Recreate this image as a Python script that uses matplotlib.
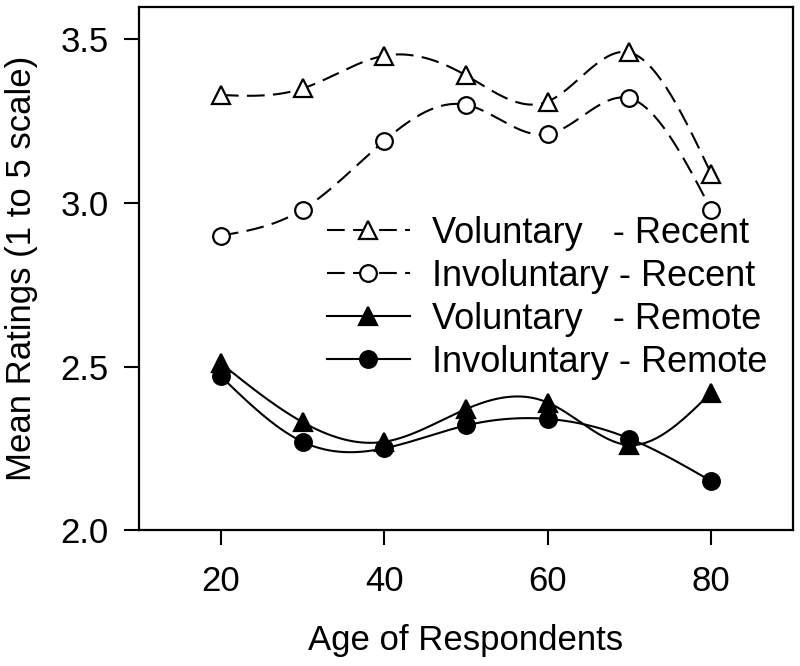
import numpy as np
import matplotlib
matplotlib.use("Agg")
import matplotlib.pyplot as plt
from matplotlib.lines import Line2D

plt.rcParams['font.family'] = ['Liberation Sans', 'DejaVu Sans']

ages = [20, 30, 40, 50, 60, 70, 80]
vol_recent = [3.33, 3.35, 3.45, 3.39, 3.31, 3.46, 3.09]
invol_recent = [2.90, 2.98, 3.19, 3.30, 3.21, 3.32, 2.98]
vol_remote = [2.51, 2.33, 2.27, 2.37, 2.39, 2.26, 2.42]
invol_remote = [2.47, 2.27, 2.25, 2.32, 2.34, 2.28, 2.15]
labels = ["Voluntary   - Recent", "Involuntary - Recent",
          "Voluntary   - Remote", "Involuntary - Remote"]


def spline(x, y, n=200):
    # natural cubic spline through the points
    x = np.asarray(x, float)
    y = np.asarray(y, float)
    k = len(x)
    h = np.diff(x)
    A = np.zeros((k, k))
    b = np.zeros(k)
    A[0, 0] = A[-1, -1] = 1
    for i in range(1, k - 1):
        A[i, i - 1] = h[i - 1]
        A[i, i] = 2 * (h[i - 1] + h[i])
        A[i, i + 1] = h[i]
        b[i] = 6 * ((y[i + 1] - y[i]) / h[i] - (y[i] - y[i - 1]) / h[i - 1])
    M = np.linalg.solve(A, b)
    xs = np.linspace(x[0], x[-1], n)
    ys = np.empty_like(xs)
    for j, t in enumerate(xs):
        i = min(np.searchsorted(x, t, side='right') - 1, k - 2)
        a = x[i + 1] - t
        c = t - x[i]
        ys[j] = (M[i] * a**3 + M[i + 1] * c**3) / (6 * h[i]) \
            + (y[i] / h[i] - M[i] * h[i] / 6) * a \
            + (y[i + 1] / h[i] - M[i + 1] * h[i] / 6) * c
    return xs, ys


fig, ax = plt.subplots(figsize=(8, 6.66), dpi=100)
fig.subplots_adjust(left=0.174, right=0.991, top=0.99, bottom=0.204)

dash = (8.5, 4)
series = [
    (vol_recent, '^', 13, 'white', True),
    (invol_recent, 'o', 12, 'white', True),
    (vol_remote, '^', 13, 'black', False),
    (invol_remote, 'o', 12, 'black', False),
]
handles = []
for (vals, mk, ms, fc, dashed), lab in zip(series, labels):
    xs, ys = spline(ages, vals)
    line, = ax.plot(xs, ys, color='black', lw=1.5)
    if dashed:
        line.set_dashes(dash)
    ax.plot(ages, vals, ls='none', marker=mk, ms=ms, mfc=fc, mec='black',
            mew=1.6, zorder=3)
    h = Line2D([], [], color='black', lw=1.5, marker=mk, ms=ms,
               mfc=fc, mec='black', mew=1.6)
    if dashed:
        h.set_dashes(dash)
    handles.append(h)

ax.set_xlim(10, 90)
ax.set_ylim(2.0, 3.6)
ax.set_xticks([20, 40, 60, 80])
ax.set_yticks([2.0, 2.5, 3.0, 3.5])
ax.tick_params(direction='out', length=11, width=1.5, labelsize=25)
ax.tick_params(axis='x', pad=14)
ax.tick_params(axis='y', pad=11)
for s in ax.spines.values():
    s.set_linewidth(1.6)
ax.set_xlabel("Age of Respondents", fontsize=25, labelpad=19)
ax.set_ylabel("Mean Ratings (1 to 5 scale)", fontsize=25, labelpad=16)

ax.legend(handles=handles, labels=labels, loc='upper left',
          bbox_to_anchor=(0.287, 0.60), frameon=False, fontsize=26,
          handlelength=2.3, handletextpad=0.6, labelspacing=0.22,
          borderaxespad=0, borderpad=0)

fig.savefig("out.png", dpi=100)
